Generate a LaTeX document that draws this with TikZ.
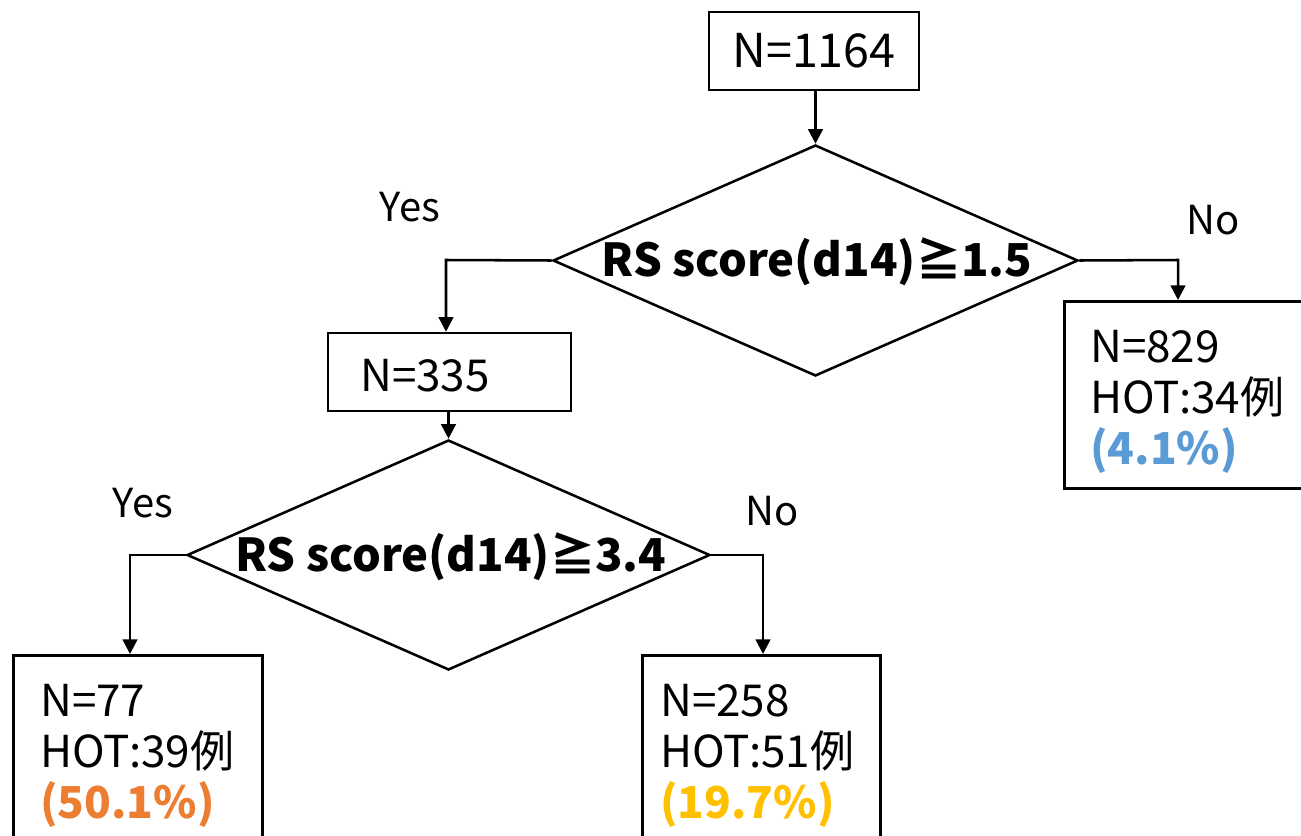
\documentclass[tikz,border=0pt]{standalone}
\usepackage{fontspec}
\setmainfont{Noto Sans CJK JP}
\usetikzlibrary{arrows.meta,shapes.geometric}
\definecolor{pctblue}{HTML}{5B9BD5}
\definecolor{pctorange}{HTML}{ED7D31}
\definecolor{pctgold}{HTML}{FFC000}
\tikzset{
  box/.style={draw, line width=1.9pt, rectangle, inner sep=0pt},
  cond/.style={draw, line width=1.9pt, diamond, inner sep=0pt},
  condtext/.style={font=\fontsize{34}{40}\selectfont\bfseries},
  info/.style={font=\fontsize{33}{38.25}\selectfont, align=left, inner sep=0pt},
  yesno/.style={font=\fontsize{30}{36}\selectfont, inner sep=0pt},
  arr/.style={line width=1.9pt, -{Triangle[width=11pt,length=11pt]}},
}
\begin{document}
\begin{tikzpicture}[x=0.75pt, y=-0.75pt]
  \clip (0,0) rectangle (1301,835);
  \fill[white] (0,0) rectangle (1301,835);
  % top
  \node[box, minimum width=157.5pt, minimum height=58.5pt,
        font=\fontsize{35}{40}\selectfont] (n1164) at (814,51) {N=1164};
  \node[cond, minimum width=393.75pt, minimum height=173.25pt] (d1) at (815.5,260.5) {};
  \node[condtext] (t1) at (817,262) {RS score(d14)≧1.5};
  \node[yesno] (yes1) at (410,207) {Yes};
  \node[yesno] (no1) at (1213,220) {No};
  % left branch
  \node[box, minimum width=182.25pt, minimum height=58.5pt] (b335) at (449.5,372) {};
  \node[info, anchor=west] (t335) at (360,376) {N=335};
  \node[cond, minimum width=392.25pt, minimum height=172.5pt] (d2) at (448.5,555) {};
  \node[condtext] (t2) at (451,557) {RS score(d14)≧3.4};
  \node[yesno] (yes2) at (143,503) {Yes};
  \node[yesno] (no2) at (772,511) {No};
  % leaves
  \node[box, minimum width=178.5pt, minimum height=140.25pt, anchor=north west] (b829) at (1063,300) {};
  \node[info, anchor=north west] (t829) at (1090,330) {N=829\\HOT:34例\\\textcolor{pctblue}{\bfseries(4.1\%)}};
  \node[box, minimum width=186.75pt, minimum height=165pt, anchor=north west] (b77) at (12,654) {};
  \node[info, anchor=north west] (t77) at (40,684) {N=77\\HOT:39例\\\textcolor{pctorange}{\bfseries(50.1\%)}};
  \node[box, minimum width=178.5pt, minimum height=165pt, anchor=north west] (b258) at (641,654) {};
  \node[info, anchor=north west] (t258) at (660,684) {N=258\\HOT:51例\\\textcolor{pctgold}{\bfseries(19.7\%)}};
  % connectors
  \coordinate (yesturn1) at (446,260);
  \coordinate (noturn1) at (1178,260);
  \coordinate (yesturn2) at (130,555);
  \coordinate (noturn2) at (763,555);
  \draw[arr] (n1164.south -| d1.north) -- (d1.north);
  \draw[arr] (d1.west) -- (yesturn1) -- (yesturn1 |- b335.north);
  \draw[arr] (d1.east) -- (noturn1) -- (noturn1 |- b829.north);
  \draw[arr] (b335.south -| d2.north) -- (d2.north);
  \draw[arr] (d2.west) -- (yesturn2) -- (yesturn2 |- b77.north);
  \draw[arr] (d2.east) -- (noturn2) -- (noturn2 |- b258.north);
\end{tikzpicture}
\end{document}
